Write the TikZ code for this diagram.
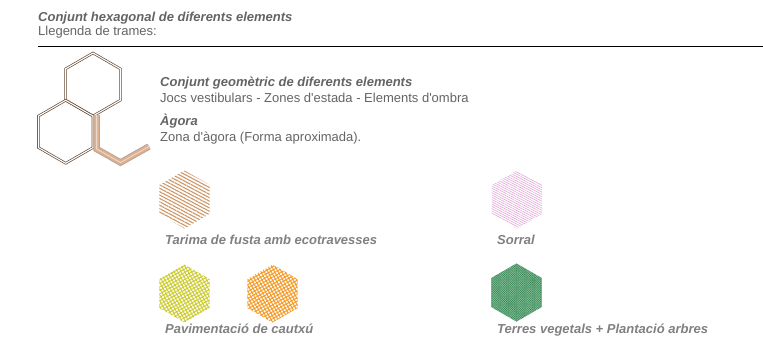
\documentclass[tikz,border=0pt]{standalone}
\usepackage{fontspec}
\setmainfont{Liberation Sans}
\usepackage{tikz}
\usetikzlibrary{shapes.geometric}
\usetikzlibrary{positioning}
\usetikzlibrary{patterns.meta}
\definecolor{hexbrown}{RGB}{100,75,55}
\definecolor{agoraline}{RGB}{185,165,155}
\definecolor{agoratan}{RGB}{222,178,145}
\definecolor{txtgray}{RGB}{100,100,100}
\definecolor{lblgray}{RGB}{128,128,128}
\definecolor{tarimacol}{RGB}{205,150,100}
\definecolor{sorralcol}{RGB}{225,165,215}
\definecolor{cautxuyel}{RGB}{205,205,50}
\definecolor{cautxuora}{RGB}{245,155,40}
\definecolor{terracol}{RGB}{45,125,75}
\definecolor{terrahatch}{RGB}{125,185,145}
\tikzset{hexa/.style={regular polygon,regular polygon sides=6,shape border rotate=30,inner sep=0pt,minimum size=63pt},
  hexline/.style={hexa,draw=hexbrown,double=white,double distance=1.1pt,line width=0.7pt},
  hexpat/.style={hexa,minimum size=58pt},
  titletxt/.style={anchor=base west,inner sep=0pt,font=\fontsize{13}{15}\selectfont\bfseries\itshape,text=txtgray},
  plaintxt/.style={anchor=base west,inner sep=0pt,font=\fontsize{13}{15}\selectfont,text=txtgray},
  lbltxt/.style={anchor=base west,inner sep=0pt,font=\fontsize{13}{15}\selectfont\bfseries\itshape,text=lblgray}}
\begin{document}
\begin{tikzpicture}[x=1pt,y=-1pt]
\useasboundingbox (0,0) rectangle (763,348);
\node[titletxt] (title) at (38,21.5) {Conjunt hexagonal de diferents elements};
\node[plaintxt] (subtitle) at (38,35) {Llegenda de trames:};
\draw[line width=0.9pt] (38,46.7) coordinate (rulestart) -- (763,46.7) coordinate (ruleend);
% hexagon set
\node[hexline] (hextop) at (93,84.5) {};
\node[hexline] (hexlow) at (65.7,131.8) {};
\draw[line width=6.5pt,agoraline,line join=miter] (96.6,115) -- (96.6,149) -- (120.5,162.5) -- (149,146.5);
\draw[line width=4.3pt,agoratan,line join=miter] (96.6,115) -- (96.6,149) -- (120.5,162.5) -- (149,146.5);
\draw[line width=0.8pt,agoratan!50!white,line join=miter] (96.6,115) -- (96.6,149) -- (120.5,162.5) -- (149,146.5);
\node[titletxt] (geomtitle) at (160,86) {Conjunt geomètric de diferents elements};
\node[plaintxt] (geomtext) at (160,102) {Jocs vestibulars - Zones d\textquotesingle estada - Elements d\textquotesingle ombra};
\node[titletxt] (agoratitle) at (160,125) {Àgora};
\node[plaintxt] (agoratext) at (160,141) {Zona d\textquotesingle àgora (Forma aproximada).};
% patterns
\node[hexpat,pattern={Lines[angle=-28,distance=3pt,line width=1.1pt]},pattern color=tarimacol] (tarima) at (184.5,199.5) {};
\node[hexpat,pattern={Lines[angle=-28,distance=2pt,line width=0.6pt]},pattern color=sorralcol] (sorral) at (517,199.5) {};
\node[hexpat,pattern={Hatch[angle=30,distance=3pt,line width=1pt]},pattern color=cautxuyel] (cautxu1) at (184.5,293.5) {};
\node[hexpat,pattern={Hatch[angle=30,distance=3pt,line width=1pt]},pattern color=cautxuora] (cautxu2) at (272.5,293.5) {};
\node[hexpat,fill=terracol,postaction={pattern={Hatch[angle=45,distance=1.6pt,line width=0.5pt]},pattern color=terrahatch}] (terres) at (516.5,292.5) {};
\node[lbltxt] (tarimalbl) at (165,244) {Tarima de fusta amb ecotravesses};
\node[lbltxt] (sorrallbl) at (497,244) {Sorral};
\node[lbltxt] (cautxulbl) at (165,333) {Pavimentació de cautxú};
\node[lbltxt] (terreslbl) at (497,333) {Terres vegetals + Plantació arbres};
\end{tikzpicture}
\end{document}
